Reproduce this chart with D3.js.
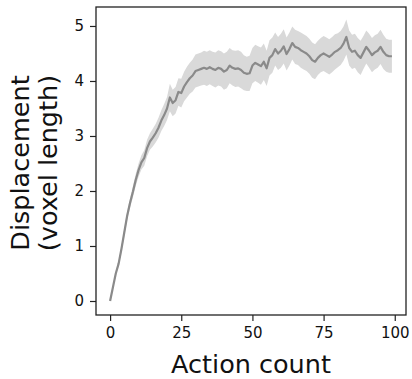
<!DOCTYPE html>
<html><head><meta charset="utf-8">
<script src="https://cdn.jsdelivr.net/npm/d3@7"></script>
<style>body{margin:0;background:#fff}svg{display:block}text{font-family:"DejaVu Sans",sans-serif;fill:#111}</style>
</head><body>
<script>
const meanValues = [0,0.25,0.5,0.68,0.95,1.25,1.55,1.78,1.98,2.2,
2.38,2.52,2.6,2.78,2.9,2.97,3.05,3.15,3.28,3.38,
3.5,3.7,3.6,3.65,3.8,3.78,3.9,3.98,4.05,4.1,
4.18,4.2,4.22,4.24,4.22,4.25,4.22,4.2,4.24,4.22,
4.17,4.2,4.28,4.24,4.22,4.23,4.2,4.15,4.13,4.14,
4.28,4.33,4.3,4.27,4.35,4.23,4.42,4.47,4.58,4.5,
4.55,4.63,4.49,4.58,4.69,4.62,4.6,4.56,4.53,4.5,
4.45,4.38,4.35,4.42,4.47,4.5,4.47,4.44,4.48,4.53,
4.56,4.6,4.68,4.8,4.6,4.53,4.55,4.47,4.42,4.52,
4.62,4.55,4.47,4.52,4.55,4.62,4.53,4.47,4.45,4.45];
const sdValues = [0,0.03,0.04,0.05,0.06,0.07,0.08,0.09,0.1,0.11,
0.12,0.13,0.14,0.15,0.15,0.16,0.17,0.18,0.19,0.2,
0.21,0.25,0.24,0.24,0.25,0.26,0.27,0.28,0.28,0.29,
0.3,0.3,0.3,0.31,0.31,0.31,0.31,0.32,0.32,0.32,
0.33,0.33,0.32,0.32,0.33,0.33,0.33,0.32,0.31,0.32,
0.32,0.33,0.33,0.34,0.33,0.32,0.32,0.32,0.3,0.3,
0.31,0.31,0.3,0.3,0.3,0.31,0.31,0.32,0.32,0.32,
0.32,0.32,0.32,0.31,0.31,0.32,0.32,0.32,0.32,0.32,
0.31,0.31,0.31,0.32,0.32,0.31,0.31,0.31,0.31,0.3,
0.3,0.31,0.31,0.31,0.31,0.31,0.31,0.3,0.3,0.3];
const xTicks = [0,25,50,75,100];
const yTicks = [0,1,2,3,4,5];
const xLabel = "Action count";
const yLabelLines = ["Displacement","(voxel length)"];

const W=412,H=379;
const m={left:96,top:7,right:406,bottom:315};
const svg=d3.select("body").append("svg").attr("width",W).attr("height",H);
const x=d3.scaleLinear().domain([-4.95,103.95]).range([m.left,m.right]);
const y=d3.scaleLinear().domain([-0.2545,5.345]).range([m.bottom,m.top]);
const data=meanValues.map((v,i)=>({i,v,sd:sdValues[i]}));

svg.append("path").datum(data)
  .attr("d",d3.area().x(d=>x(d.i)).y0(d=>y(d.v-d.sd)).y1(d=>y(d.v+d.sd)))
  .attr("fill","#d9d9d9");
svg.append("path").datum(data)
  .attr("d",d3.line().x(d=>x(d.i)).y(d=>y(d.v)))
  .attr("fill","none").attr("stroke","#8a8a8a").attr("stroke-width",2.2).attr("stroke-linejoin","round");

const gx=svg.append("g").attr("transform",`translate(0,${m.bottom})`)
  .call(d3.axisBottom(x).tickValues(xTicks).tickSize(6).tickPadding(6).tickFormat(d3.format("d")));
const gy=svg.append("g").attr("transform",`translate(${m.left},0)`)
  .call(d3.axisLeft(y).tickValues(yTicks).tickSize(6).tickPadding(6).tickFormat(d3.format("d")));
[gx,gy].forEach(g=>{
  g.select(".domain").remove();
  g.selectAll(".tick line").attr("stroke","#222").attr("stroke-width",1.2);
  g.selectAll(".tick text").attr("font-size",15).attr("font-family","DejaVu Sans").attr("fill","#111");
});
svg.append("rect").attr("x",m.left).attr("y",m.top).attr("width",m.right-m.left).attr("height",m.bottom-m.top)
  .attr("fill","none").attr("stroke","#222").attr("stroke-width",1.3);

svg.append("text").attr("x",251).attr("y",373).attr("text-anchor","middle")
  .attr("font-size",25.5).text(xLabel);
const yl=svg.append("text").attr("transform",`translate(0,163) rotate(-90)`)
  .attr("text-anchor","middle").attr("font-size",25.5);
yl.append("tspan").attr("x",0).attr("y",29).text(yLabelLines[0]);
yl.append("tspan").attr("x",0).attr("y",57).text(yLabelLines[1]);
</script>
</body></html>
